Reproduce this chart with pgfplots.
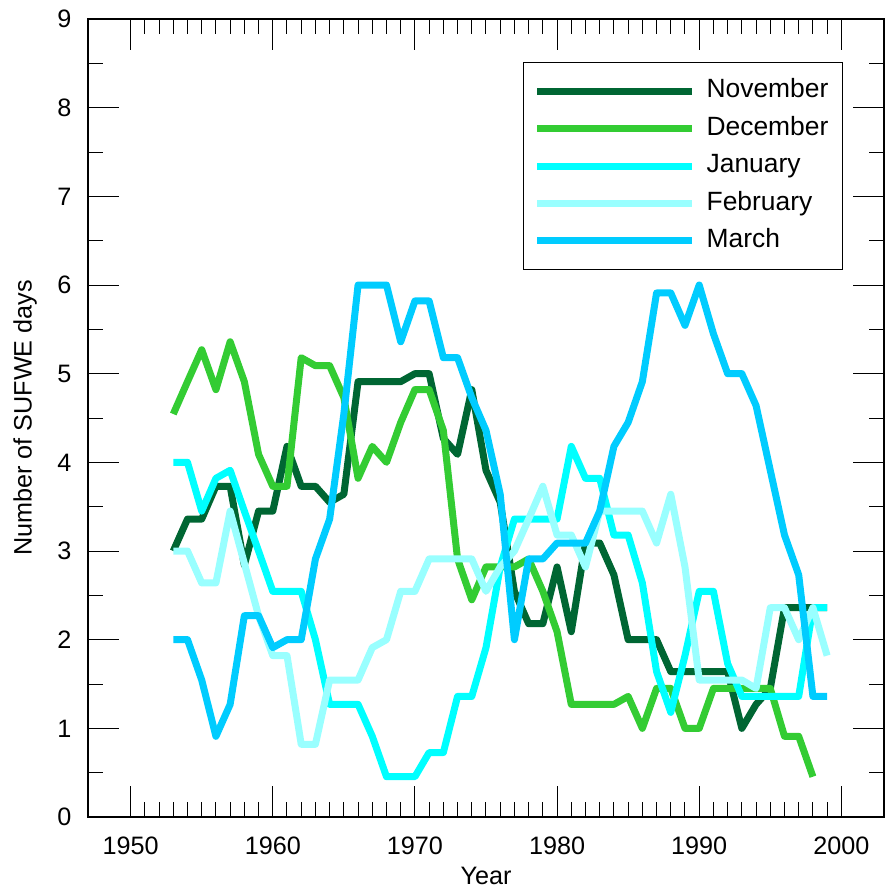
\documentclass[border=0pt]{standalone}
\usepackage{fontspec}
\setmainfont{Liberation Sans}
\usepackage{pgfplots}
\pgfplotsset{compat=1.18}
\definecolor{cNov}{RGB}{0,102,51}
\definecolor{cDec}{RGB}{51,204,51}
\definecolor{cJan}{RGB}{0,255,255}
\definecolor{cFeb}{RGB}{153,255,255}
\definecolor{cMar}{RGB}{0,204,255}
\begin{document}
\begin{tikzpicture}
\path[use as bounding box] (-44pt,-37pt) rectangle (399.5pt,408.5pt);
\begin{axis}[at={(0,0)}, anchor=south west, scale only axis,
  width=398pt, height=399pt,
  xmin=1947, xmax=2003, ymin=0, ymax=9,
  xtick={1950,1960,...,2000}, ytick={0,1,...,9},
  minor x tick num=9, minor y tick num=1,
  major tick length=15.5pt, minor tick length=7.5pt,
  tick style={black, line width=0.5pt},
  axis line style={line width=0.75pt},
  tick label style={font=\fontsize{12.6}{15}\selectfont},
  /pgf/number format/assume math mode=true,
  /pgf/number format/1000 sep={},
  xticklabel style={yshift=-6.5pt},
  yticklabel style={xshift=-4.8pt},
  xlabel={Year}, ylabel={Number of SUFWE days},
  label style={font=\fontsize{12.6}{15}\selectfont},
  xlabel style={at={(axis description cs:0.5,0)}, anchor=north, yshift=-21.3pt},
  ylabel style={at={(axis description cs:-0.0791,0.5)}, anchor=center, rotate=0},
  no markers,
  every axis plot/.append style={line width=3.5pt, line join=round},
  legend cell align=left,
  legend style={at={(0.9485,0.9461)}, anchor=north east, draw=black, line width=0.6pt,
    font=\fontsize{13.2}{15}\selectfont, inner xsep=5pt, inner ysep=5pt, row sep=0pt,
    nodes={inner ysep=3.1pt, text height=9.5pt, text depth=3pt},
    /tikz/every odd column/.append style={column sep=3.5pt}},
  legend image code/.code={\draw[#1, line width=3.5pt] (0pt,0pt) -- (77.5pt,0pt);},
]
\addplot[cNov] coordinates {
(1953,3.0)(1954,3.36)(1955,3.36)(1956,3.73)(1957,3.73)(1958,2.84)(1959,3.45)(1960,3.45)
(1961,4.18)(1962,3.73)(1963,3.73)(1964,3.55)(1965,3.64)(1966,4.91)(1967,4.91)(1968,4.91)
(1969,4.91)(1970,5.0)(1971,5.0)(1972,4.27)(1973,4.09)(1974,4.82)(1975,3.91)(1976,3.55)
(1977,2.545)(1978,2.18)(1979,2.18)(1980,2.82)(1981,2.09)(1982,3.09)(1983,3.09)(1984,2.73)
(1985,2.0)(1986,2.0)(1987,2.0)(1988,1.64)(1989,1.64)(1990,1.64)(1991,1.64)(1992,1.64)
(1993,1.0)(1994,1.27)(1995,1.45)(1996,2.36)(1997,2.36)(1998,2.36)(1999,2.36)};
\addlegendentry{November}
\addplot[cDec] coordinates {
(1953,4.545)(1954,4.91)(1955,5.27)(1956,4.82)(1957,5.36)(1958,4.91)(1959,4.09)(1960,3.73)
(1961,3.73)(1962,5.18)(1963,5.09)(1964,5.09)(1965,4.73)(1966,3.82)(1967,4.18)(1968,4.0)
(1969,4.45)(1970,4.82)(1971,4.82)(1972,4.36)(1973,2.91)(1974,2.45)(1975,2.82)(1976,2.82)
(1977,2.82)(1978,2.91)(1979,2.545)(1980,2.09)(1981,1.27)(1982,1.27)(1983,1.27)(1984,1.27)
(1985,1.36)(1986,1.0)(1987,1.45)(1988,1.45)(1989,1.0)(1990,1.0)(1991,1.45)(1992,1.45)
(1993,1.45)(1994,1.45)(1995,1.45)(1996,0.91)(1997,0.91)(1998,0.4545)};
\addlegendentry{December}
\addplot[cJan] coordinates {
(1953,4.0)(1954,4.0)(1955,3.45)(1956,3.82)(1957,3.91)(1958,3.45)(1959,3.0)(1960,2.545)
(1961,2.545)(1962,2.545)(1963,2.0)(1964,1.27)(1965,1.27)(1966,1.27)(1967,0.91)(1968,0.4545)
(1969,0.4545)(1970,0.4545)(1971,0.727)(1972,0.727)(1973,1.36)(1974,1.36)(1975,1.91)(1976,2.82)
(1977,3.36)(1978,3.36)(1979,3.36)(1980,3.36)(1981,4.18)(1982,3.82)(1983,3.82)(1984,3.18)
(1985,3.18)(1986,2.64)(1987,1.64)(1988,1.18)(1989,1.82)(1990,2.545)(1991,2.545)(1992,1.73)
(1993,1.36)(1994,1.36)(1995,1.36)(1996,1.36)(1997,1.36)(1998,2.36)(1999,2.36)};
\addlegendentry{January}
\addplot[cFeb] coordinates {
(1953,3.0)(1954,3.0)(1955,2.64)(1956,2.64)(1957,3.45)(1958,2.86)(1959,2.27)(1960,1.82)
(1961,1.82)(1962,0.82)(1963,0.82)(1964,1.545)(1965,1.545)(1966,1.545)(1967,1.91)(1968,2.0)
(1969,2.545)(1970,2.545)(1971,2.91)(1972,2.91)(1973,2.91)(1974,2.91)(1975,2.545)(1976,2.82)
(1977,3.0)(1978,3.36)(1979,3.73)(1980,3.18)(1981,3.18)(1982,2.82)(1983,3.45)(1984,3.45)
(1985,3.45)(1986,3.45)(1987,3.09)(1988,3.64)(1989,2.82)(1990,1.545)(1991,1.545)(1992,1.545)
(1993,1.545)(1994,1.45)(1995,2.36)(1996,2.36)(1997,2.0)(1998,2.36)(1999,1.82)};
\addlegendentry{February}
\addplot[cMar] coordinates {
(1953,2.0)(1954,2.0)(1955,1.545)(1956,0.91)(1957,1.27)(1958,2.27)(1959,2.27)(1960,1.91)
(1961,2.0)(1962,2.0)(1963,2.91)(1964,3.36)(1965,4.545)(1966,6.0)(1967,6.0)(1968,6.0)
(1969,5.36)(1970,5.82)(1971,5.82)(1972,5.18)(1973,5.18)(1974,4.73)(1975,4.36)(1976,3.64)
(1977,2.0)(1978,2.91)(1979,2.91)(1980,3.09)(1981,3.09)(1982,3.09)(1983,3.45)(1984,4.18)
(1985,4.45)(1986,4.91)(1987,5.91)(1988,5.91)(1989,5.545)(1990,6.0)(1991,5.45)(1992,5.0)
(1993,5.0)(1994,4.64)(1995,3.91)(1996,3.18)(1997,2.73)(1998,1.36)(1999,1.36)};
\addlegendentry{March}
\end{axis}
\end{tikzpicture}
\end{document}
